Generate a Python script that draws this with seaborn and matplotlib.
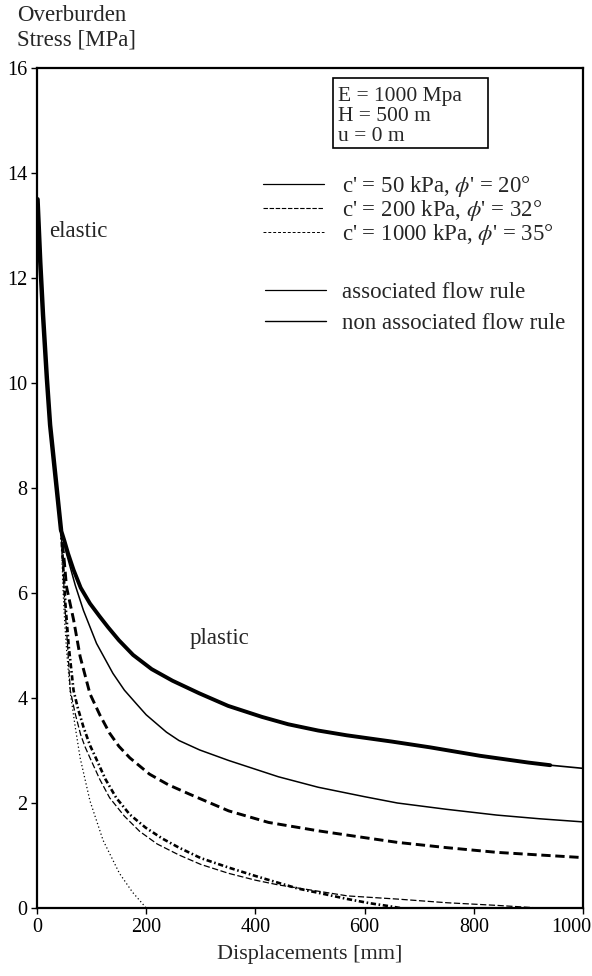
import matplotlib
matplotlib.use("Agg")
import matplotlib.pyplot as plt
import matplotlib.transforms as mtransforms
import seaborn as sns
import pandas as pd
from matplotlib.lines import Line2D
from matplotlib.patches import Rectangle

# --- data (displacement mm, stress MPa) ---
elastic_x = [1, 6, 11, 18, 24, 33, 44]
elastic_y = [13.5, 12.3, 11.3, 10.1, 9.2, 8.3, 7.2]

# thick solid (upper plastic curve)
a_x = [44, 50, 57, 67, 80, 97, 115, 130, 150, 176, 210, 248, 297, 350, 412, 460, 515, 567, 650, 720, 811, 900, 940, 1000]
a_y = [7.2, 7.0, 6.75, 6.44, 6.1, 5.80, 5.55, 5.35, 5.10, 4.82, 4.55, 4.33, 4.09, 3.85, 3.64, 3.50, 3.38, 3.29, 3.17, 3.06, 2.90, 2.77, 2.72, 2.66]

# thin solid
b_x = [44, 54, 70, 85, 109, 139, 160, 182, 200, 237, 260, 298, 351, 442, 515, 600, 660, 750, 842, 920, 1000]
b_y = [7.2, 6.75, 6.15, 5.67, 5.04, 4.47, 4.15, 3.89, 3.68, 3.35, 3.19, 3.01, 2.81, 2.50, 2.30, 2.12, 2.0, 1.88, 1.77, 1.70, 1.64]

# thick dashed
c_x = [44, 50, 54, 67, 79, 97, 115, 133, 150, 170, 206, 240, 279, 351, 424, 515, 600, 660, 750, 842, 920, 1000]
c_y = [7.2, 6.6, 6.12, 5.49, 4.79, 4.08, 3.68, 3.33, 3.08, 2.86, 2.55, 2.35, 2.17, 1.85, 1.63, 1.47, 1.34, 1.25, 1.15, 1.06, 1.01, 0.96]

# thick dash-dot
d_x = [44, 48, 52, 58, 67, 75, 85, 97, 109, 125, 145, 170, 199, 230, 260, 300, 351, 400, 442, 478, 515, 569, 610, 642, 665]
d_y = [7.2, 6.5, 5.8, 5.0, 4.14, 3.8, 3.45, 3.1, 2.83, 2.46, 2.10, 1.78, 1.53, 1.32, 1.15, 0.95, 0.77, 0.61, 0.48, 0.37, 0.29, 0.17, 0.09, 0.04, 0.0]

# thin dashed
e_x = [44, 48, 52, 56, 61, 70, 80, 88, 97, 115, 133, 160, 188, 220, 260, 300, 351, 400, 442, 515, 569, 660, 751, 842, 920]
e_y = [7.2, 6.4, 5.6, 5.0, 4.14, 3.7, 3.3, 3.07, 2.86, 2.45, 2.10, 1.75, 1.46, 1.22, 1.01, 0.83, 0.66, 0.53, 0.44, 0.32, 0.23, 0.17, 0.10, 0.05, 0.0]

# thin dotted
f_x = [44, 46, 48, 51, 55, 61, 70, 79, 97, 121, 151, 175, 200]
f_y = [7.2, 6.6, 6.0, 5.4, 4.8, 4.1, 3.45, 2.86, 2.04, 1.29, 0.66, 0.30, 0.0]

x_ticks = [0, 200, 400, 600, 800, 1000]
y_ticks = [0, 2, 4, 6, 8, 10, 12, 14, 16]

legend_soil = ["c' = 50 kPa, $\\phi$' = 20°",
               "c' = 200 kPa, $\\phi$' = 32°",
               "c' = 1000 kPa, $\\phi$' = 35°"]
legend_flow = ["associated flow rule", "non associated flow rule"]
box_lines = ["E = 1000 Mpa", "H = 500 m", "u = 0 m"]

sns.set_style("ticks")
plt.rcParams['font.family'] = ['Liberation Serif', 'DejaVu Serif']
plt.rcParams['mathtext.fontset'] = 'stix'

fig = plt.figure(figsize=(5.92, 9.76), dpi=100)
ax = fig.add_axes([37 / 592, 1 - 908 / 976, 546 / 592, 840 / 976])


def draw(xs, ys, lw, ls="-"):
    df = pd.DataFrame({"x": xs, "y": ys})
    sns.lineplot(data=df, x="x", y="y", ax=ax, color="black", lw=lw,
                 linestyle=ls, sort=False, estimator=None)
    return df


# curves
draw(elastic_x, elastic_y, 3.2)
df_a = draw(a_x, a_y, 1.2)
df_a_thick = df_a[df_a["x"] <= 940]
draw(df_a_thick["x"], df_a_thick["y"], 2.8)
draw(b_x, b_y, 1.1)
draw(c_x, c_y, 2.1, (0, (3.2, 1.6)))
draw(d_x, d_y, 1.9, (0, (2.0, 1.0, 0.6, 1.0)))
draw(e_x, e_y, 0.9, (0, (5, 2)))
draw(f_x, f_y, 0.9, (0, (1, 2)))

ax.set_xlim(0, 1000)
ax.set_ylim(0, 16)
ax.set_xticks(x_ticks)
ax.set_yticks(y_ticks)
ax.tick_params(direction="out", length=4, width=1, labelsize=14.5, pad=3,
               colors="black")
for s in ax.spines.values():
    s.set_linewidth(1.6)
    s.set_color("black")
ax.set_xlabel("Displacements [mm]", fontsize=16, labelpad=6)
ax.set_ylabel("")

# last x tick label sits against the right edge, nudge it left a little
last = ax.get_xticklabels()[-1]
last.set_transform(last.get_transform()
                   + mtransforms.ScaledTranslation(-12 / 100, 0, fig.dpi_scale_trans))

fig.text(17 / 592, 1 - 5 / 976, "Overburden\nStress [MPa]", fontsize=16.5,
         va="top", ha="left", linespacing=1.2)

ax.text(22, 12.88, "elastic", fontsize=16.5, va="center", ha="left")
ax.text(280, 5.14, "plastic", fontsize=16.5, va="center", ha="left")

# parameter box
ax.add_patch(Rectangle((0.5416, 0.905), 0.2844, 0.0827, transform=ax.transAxes,
                       fill=False, ec="black", lw=1.2))
for line, yb in zip(box_lines, [0.9607, 0.9369, 0.9131]):
    ax.text(0.551, yb, line, transform=ax.transAxes, fontsize=15.5,
            va="baseline", ha="left")

# legends
soil_handles = [Line2D([], [], color="black", lw=0.9),
                Line2D([], [], color="black", lw=0.8, linestyle=(0, (4, 1.5))),
                Line2D([], [], color="black", lw=0.7, linestyle=(0, (3, 2)))]
leg1 = ax.legend(soil_handles, legend_soil, loc="upper left",
                 bbox_to_anchor=(0.414, 0.874), frameon=False, fontsize=16.5,
                 handlelength=2.65, handletextpad=0.8, labelspacing=-0.03,
                 borderpad=0, borderaxespad=0)
ax.add_artist(leg1)
flow_handles = [Line2D([], [], color="black", lw=0.9),
                Line2D([], [], color="black", lw=1.0)]
ax.legend(flow_handles, legend_flow, loc="upper left",
          bbox_to_anchor=(0.4176, 0.745), frameon=False, fontsize=16.5,
          handlelength=2.65, handletextpad=0.7, labelspacing=0.42,
          borderpad=0, borderaxespad=0)

fig.savefig("out.png", dpi=100)
